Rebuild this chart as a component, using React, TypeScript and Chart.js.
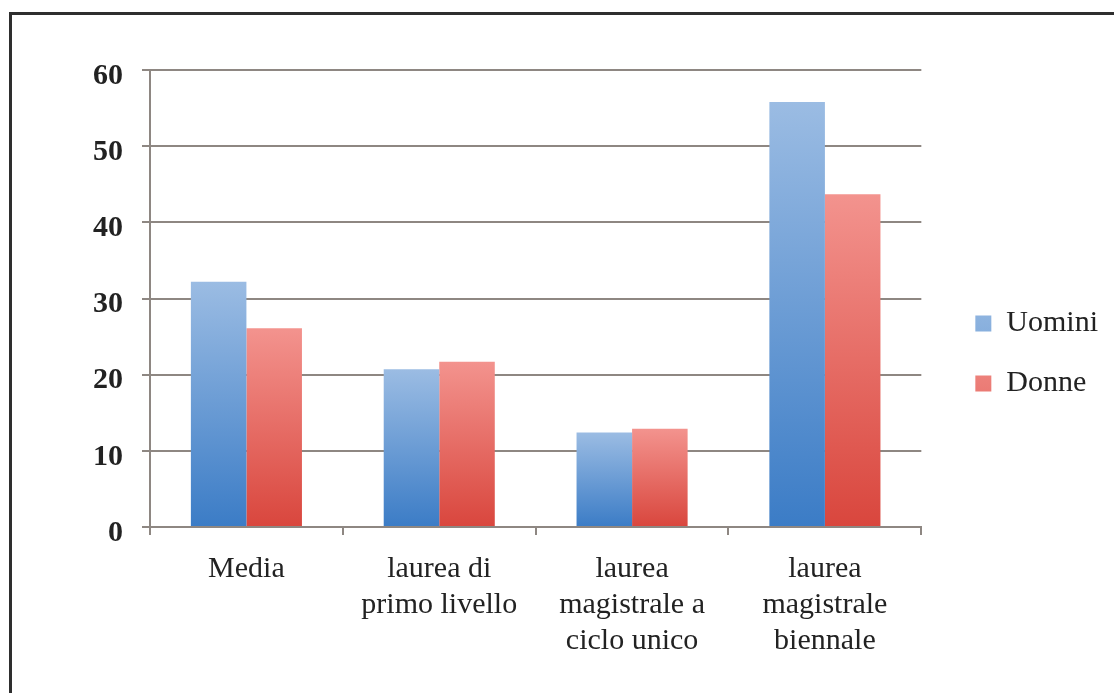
import React, { useEffect, useRef } from "react";
import { Chart, registerables } from "chart.js";

Chart.register(...registerables);

const categories: (string | string[])[] = [
  "Media",
  ["laurea di", "primo livello"],
  ["laurea", "magistrale a", "ciclo unico"],
  ["laurea", "magistrale", "biennale"],
];
const uomini = [32.2, 20.7, 12.4, 55.8];
const donne = [26.1, 21.7, 12.9, 43.7];
const seriesNames = ["Uomini", "Donne"];
const yTicks = [0, 10, 20, 30, 40, 50, 60];

const GRID = "#8e8782";
const TEXT = "#222222";
const FONT = "'Liberation Serif', 'Times New Roman', serif";

function gradientFill(top: string, bottom: string, solid: string) {
  return (ctx: any) => {
    const chart = ctx.chart;
    if (ctx.type !== "data" || !chart.chartArea || !chart.scales.y) return solid;
    const ys = chart.scales.y;
    const y0 = ys.getPixelForValue(0);
    const y1 = ys.getPixelForValue(ctx.raw);
    if (!isFinite(y0) || !isFinite(y1) || y0 === y1) return solid;
    const g = chart.ctx.createLinearGradient(0, y1, 0, y0);
    g.addColorStop(0, top);
    g.addColorStop(1, bottom);
    return g;
  };
}

export default function App() {
  const ref = useRef<HTMLCanvasElement | null>(null);

  useEffect(() => {
    if (!ref.current) return;
    const chart = new Chart(ref.current, {
      type: "bar",
      data: {
        labels: categories,
        datasets: [
          {
            label: seriesNames[0],
            data: uomini,
            backgroundColor: gradientFill("#9bbce3", "#3b7cc6", "#5a90d2"),
            borderWidth: 0,
          },
          {
            label: seriesNames[1],
            data: donne,
            backgroundColor: gradientFill("#f3938e", "#d9463d", "#e0615a"),
            borderWidth: 0,
          },
        ],
      },
      options: {
        responsive: false,
        animation: false,
        layout: { padding: { top: 14, bottom: 0, left: 0, right: 6 } },
        datasets: {
          bar: { categoryPercentage: 0.576, barPercentage: 1 },
        },
        plugins: {
          tooltip: { enabled: false },
          title: {
            display: true,
            text: " ",
            fullSize: false,
            padding: 0,
            font: { size: 28, lineHeight: 2 },
          },
          legend: {
            position: "right",
            align: "center",
            labels: {
              boxWidth: 16,
              boxHeight: 16,
              padding: 30,
              color: TEXT,
              font: { family: FONT, size: 30 },
            },
          },
        },
        scales: {
          x: {
            offset: true,
            grid: {
              display: true,
              drawOnChartArea: false,
              drawTicks: true,
              tickLength: 8,
              color: GRID,
              lineWidth: 2,
              offset: true,
            },
            border: { display: true, color: GRID, width: 2 },
            ticks: {
              color: TEXT,
              padding: 16,
              maxRotation: 0,
              autoSkip: false,
              font: { family: FONT, size: 30, lineHeight: 1.2 },
            },
            afterFit: (s: any) => {
              s.height = 166;
            },
          },
          y: {
            min: 0,
            max: 60,
            afterBuildTicks: (s: any) => {
              s.ticks = yTicks.map((v) => ({ value: v }));
            },
            grid: {
              color: GRID,
              lineWidth: 2,
              tickLength: 8,
            },
            border: { display: true, color: GRID, width: 2 },
            ticks: {
              color: TEXT,
              padding: 19,
              labelOffset: 6,
              font: { family: FONT, size: 30, weight: "bold" },
            },
            afterFit: (s: any) => {
              s.width = 150;
            },
          },
          y2: {
            position: "right",
            display: true,
            grid: { display: false, drawTicks: false },
            border: { display: false },
            ticks: { display: false },
            afterFit: (s: any) => {
              s.width = 24;
            },
          },
        },
      },
    });
    return () => chart.destroy();
  }, []);

  return (
    <div
      style={{
        position: "absolute",
        left: 0,
        top: 0,
        width: 1114,
        height: 693,
        overflow: "hidden",
        background: "#ffffff",
      }}
    >
      <div
        style={{
          position: "absolute",
          left: 9,
          top: 12,
          width: 1300,
          height: 900,
          borderLeft: "3px solid #2e2e2e",
          borderTop: "3px solid #2e2e2e",
        }}
      />
      <canvas
        ref={ref}
        width={1114}
        height={693}
        style={{ position: "absolute", left: 0, top: 0, width: 1114, height: 693 }}
      />
    </div>
  );
}
